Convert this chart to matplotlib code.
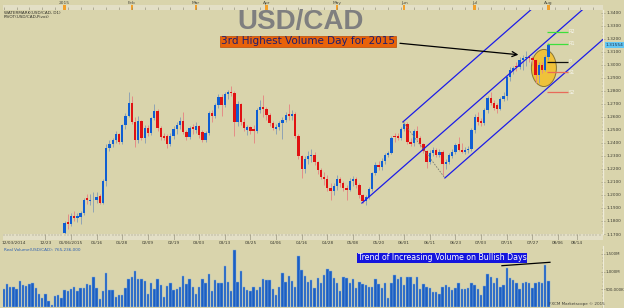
import numpy as np
import pandas as pd
import matplotlib
matplotlib.use("Agg")
import matplotlib.pyplot as plt
from matplotlib.patches import Ellipse

plt.rcParams['font.family'] = ['DejaVu Sans']

# ---------- data ----------
# daily USD/CAD candles, 2015-01-02 .. 2015-08-03
opens = [
    1.1710, 1.1790, 1.1780, 1.1840, 1.1825, 1.1830, 1.1860, 1.1975, 1.1955, 1.1960, 1.1960,   # Jan
    1.1990, 1.1940, 1.2105, 1.2360, 1.2390, 1.2425, 1.2470, 1.2405, 1.2535, 1.2610,
    1.2710, 1.2565, 1.2425, 1.2570, 1.2440, 1.2515, 1.2475, 1.2590, 1.2645, 1.2515,   # Feb
    1.2455, 1.2450, 1.2395, 1.2455, 1.2505, 1.2535, 1.2570, 1.2485, 1.2445, 1.2520,
    1.2500, 1.2530, 1.2485, 1.2425, 1.2475, 1.2630, 1.2610, 1.2690, 1.2755, 1.2695, 1.2775,   # Mar
    1.2795, 1.2785, 1.2560, 1.2700, 1.2560, 1.2500, 1.2520, 1.2510, 1.2495, 1.2655, 1.2680,
    1.2665, 1.2615, 1.2555, 1.2505, 1.2525, 1.2555, 1.2580, 1.2620, 1.2605, 1.2625, 1.2455,   # Apr
    1.2300, 1.2200, 1.2280, 1.2300, 1.2310, 1.2250, 1.2190, 1.2140, 1.2120, 1.2050, 1.2030,
    1.2070, 1.2120, 1.2090, 1.2050, 1.2040, 1.2110, 1.2120, 1.2080, 1.2000, 1.1955, 1.1985,   # May
    1.2045, 1.2170, 1.2230, 1.2215, 1.2265, 1.2305, 1.2325, 1.2455, 1.2450, 1.2440,
    1.2510, 1.2545, 1.2410, 1.2400, 1.2495, 1.2440, 1.2390, 1.2335, 1.2255, 1.2320, 1.2345,   # Jun
    1.2310, 1.2330, 1.2235, 1.2250, 1.2300, 1.2330, 1.2395, 1.2345, 1.2330, 1.2345, 1.2355,
    1.2500, 1.2600, 1.2570, 1.2555, 1.2650, 1.2745, 1.2710, 1.2690, 1.2665, 1.2740, 1.2760, 1.2905,   # Jul
    1.2955, 1.2995, 1.2985, 1.3040, 1.3055, 1.3060, 1.3050, 1.3035, 1.2920, 1.3000, 1.2965,
    1.3060,   # Aug
]
highs = [
    1.1800, 1.1855, 1.1860, 1.1880, 1.1860, 1.1875, 1.1975, 1.2010, 1.2010, 1.2020, 1.2020,
    1.2010, 1.2120, 1.2395, 1.2420, 1.2440, 1.2490, 1.2480, 1.2545, 1.2630, 1.2795,
    1.2760, 1.2600, 1.2610, 1.2580, 1.2540, 1.2540, 1.2600, 1.2700, 1.2660, 1.2530,
    1.2480, 1.2470, 1.2480, 1.2530, 1.2560, 1.2600, 1.2640, 1.2500, 1.2530, 1.2545,
    1.2560, 1.2540, 1.2500, 1.2490, 1.2645, 1.2650, 1.2710, 1.2775, 1.2780, 1.2790, 1.2810,
    1.2835, 1.2800, 1.2720, 1.2710, 1.2590, 1.2540, 1.2530, 1.2540, 1.2670, 1.2730, 1.2770,
    1.2680, 1.2630, 1.2570, 1.2545, 1.2570, 1.2600, 1.2640, 1.2700, 1.2650, 1.2640, 1.2470,
    1.2310, 1.2300, 1.2340, 1.2350, 1.2330, 1.2265, 1.2210, 1.2175, 1.2150, 1.2090, 1.2095,
    1.2150, 1.2140, 1.2110, 1.2080, 1.2130, 1.2145, 1.2135, 1.2090, 1.2010, 1.2000, 1.2060,
    1.2180, 1.2250, 1.2260, 1.2285, 1.2320, 1.2340, 1.2455, 1.2480, 1.2480, 1.2520,
    1.2565, 1.2560, 1.2440, 1.2505, 1.2530, 1.2455, 1.2400, 1.2345, 1.2345, 1.2370, 1.2365,
    1.2350, 1.2345, 1.2275, 1.2320, 1.2350, 1.2400, 1.2445, 1.2400, 1.2370, 1.2380, 1.2515,
    1.2620, 1.2640, 1.2595, 1.2670, 1.2760, 1.2790, 1.2730, 1.2710, 1.2755, 1.2790, 1.2920,
    1.2985, 1.2995, 1.3020, 1.3060, 1.3080, 1.3110, 1.3080, 1.3070, 1.3045, 1.3020, 1.3020,
    1.3075,
    1.3170,
]
lows = [
    1.1700, 1.1740, 1.1760, 1.1800, 1.1790, 1.1780, 1.1845, 1.1930, 1.1920, 1.1870, 1.1940,
    1.1930, 1.1930, 1.2070, 1.2340, 1.2370, 1.2400, 1.2390, 1.2395, 1.2510, 1.2600,
    1.2545, 1.2370, 1.2400, 1.2420, 1.2400, 1.2450, 1.2460, 1.2575, 1.2490, 1.2420,
    1.2420, 1.2360, 1.2380, 1.2430, 1.2470, 1.2510, 1.2470, 1.2420, 1.2430, 1.2470,
    1.2480, 1.2440, 1.2410, 1.2410, 1.2460, 1.2560, 1.2590, 1.2670, 1.2610, 1.2680, 1.2740,
    1.2760, 1.2450, 1.2530, 1.2540, 1.2490, 1.2460, 1.2470, 1.2400, 1.2480, 1.2630, 1.2600,
    1.2580, 1.2530, 1.2500, 1.2470, 1.2500, 1.2430, 1.2560, 1.2580, 1.2580, 1.2440, 1.2280,
    1.2130, 1.2170, 1.2240, 1.2250, 1.2230, 1.2165, 1.2120, 1.2080, 1.2030, 1.1960, 1.2000,
    1.2040, 1.2060, 1.2030, 1.1960, 1.2030, 1.2070, 1.2050, 1.1980, 1.1935, 1.1920, 1.1970,
    1.2030, 1.2150, 1.2190, 1.2195, 1.2240, 1.2290, 1.2315, 1.2410, 1.2420, 1.2420,
    1.2490, 1.2395, 1.2380, 1.2380, 1.2420, 1.2370, 1.2320, 1.2210, 1.2240, 1.2300, 1.2290,
    1.2290, 1.2150, 1.2200, 1.2235, 1.2285, 1.2315, 1.2335, 1.2320, 1.2315, 1.2320, 1.2340,
    1.2480, 1.2540, 1.2530, 1.2540, 1.2630, 1.2690, 1.2650, 1.2630, 1.2650, 1.2720, 1.2730,
    1.2880, 1.2930, 1.2950, 1.2970, 1.2960, 1.2990, 1.3020, 1.3000, 1.2865, 1.2860, 1.2940,
    1.2950,
    1.3040,
]
closes = [
    1.1785, 1.1780, 1.1840, 1.1825, 1.1835, 1.1865, 1.1965, 1.1960, 1.1960, 1.1963, 1.1985,
    1.1940, 1.2105, 1.2360, 1.2390, 1.2425, 1.2470, 1.2405, 1.2535, 1.2610, 1.2710,
    1.2565, 1.2425, 1.2570, 1.2440, 1.2515, 1.2475, 1.2590, 1.2645, 1.2515, 1.2445,
    1.2440, 1.2395, 1.2455, 1.2505, 1.2535, 1.2570, 1.2485, 1.2445, 1.2515, 1.2505,
    1.2530, 1.2460, 1.2425, 1.2475, 1.2630, 1.2605, 1.2690, 1.2755, 1.2695, 1.2775, 1.2790,
    1.2785, 1.2560, 1.2700, 1.2560, 1.2515, 1.2520, 1.2495, 1.2495, 1.2655, 1.2680, 1.2665,
    1.2615, 1.2555, 1.2515, 1.2525, 1.2555, 1.2580, 1.2615, 1.2605, 1.2625, 1.2455, 1.2300,
    1.2200, 1.2280, 1.2300, 1.2310, 1.2250, 1.2190, 1.2140, 1.2120, 1.2050, 1.2030, 1.2070,
    1.2120, 1.2090, 1.2050, 1.2040, 1.2110, 1.2120, 1.2080, 1.2000, 1.1955, 1.1985, 1.2045,
    1.2170, 1.2230, 1.2215, 1.2265, 1.2305, 1.2325, 1.2440, 1.2445, 1.2440, 1.2510,
    1.2545, 1.2410, 1.2390, 1.2495, 1.2440, 1.2390, 1.2335, 1.2255, 1.2320, 1.2345, 1.2310,
    1.2330, 1.2235, 1.2250, 1.2305, 1.2330, 1.2385, 1.2345, 1.2330, 1.2345, 1.2355, 1.2500,
    1.2600, 1.2560, 1.2555, 1.2650, 1.2745, 1.2710, 1.2670, 1.2665, 1.2740, 1.2760, 1.2905,
    1.2960, 1.2975, 1.2985, 1.3040, 1.3055, 1.3060, 1.3050, 1.3035, 1.2920, 1.3000, 1.2965,
    1.3060,
    1.3155,
]

# real volume in millions, 2014-12-03 .. 2015-08-03
volume = [
    670, 500, 650, 575, 580, 520, 735, 620, 605, 640,
    680, 540, 375, 265, 360, 170, 65, 310, 345, 260,
    480, 440, 500, 575, 440, 540, 540, 640, 630, 850,
    550, 220, 460, 970, 480, 480, 290, 350, 350, 540,
    790, 850, 1030, 800, 780, 740, 375, 690, 500, 800,
    620, 280, 600, 680, 470, 500, 580, 885, 660, 800,
    560, 375, 580, 800, 680, 920, 450, 760, 680, 680,
    1150, 700, 450, 1610, 700, 1020, 560, 480, 460, 580,
    470, 580, 800, 760, 760, 520, 330, 575, 970, 710,
    880, 735, 580, 1435, 1050, 885, 710, 760,
    545, 810, 670, 905, 1065, 1010, 810, 670, 445, 840,
    830, 670, 790, 525, 700, 645, 610, 560, 560, 790,
    645, 525, 670, 245, 690, 905, 780, 840, 625, 840,
    840, 645, 840, 510, 645, 580, 550, 415, 415, 380,
    580, 610, 580, 490, 530, 670, 510, 500, 545, 690,
    610, 510, 340, 600, 935, 860, 670, 830, 580, 615,
    1095, 830, 760, 670, 510, 670, 720, 690, 540, 690,
    700, 670, 1190, 740,
]

pivot_names = ["R2", "R1", "P", "S1", "S2"]
pivot_levels = [1.3255, 1.3165, 1.3025, 1.2945, 1.2790]
pivot_colors = ["#3CE03C", "#3CE03C", "#101010", "#E86A5A", "#E86A5A"]

# pitchfork anchors (bar index, price): handle low, swing high, swing low
fork_x = [92.8, 105.6, 118.7]
fork_y = [1.1938, 1.2562, 1.2131]
fork_slope = 0.00216

date_ticks = ["2014-12-03", "2014-12-23", "2015-01-06", "2015-01-16", "2015-01-28", "2015-02-09",
              "2015-02-19", "2015-03-03", "2015-03-13", "2015-03-25", "2015-04-06", "2015-04-16",
              "2015-04-28", "2015-05-08", "2015-05-20", "2015-06-01", "2015-06-11", "2015-06-23",
              "2015-07-03", "2015-07-15", "2015-07-27", "2015-08-06", "2015-08-14"]
date_labels = ["12/03/2014", "12/23", "01/06/2015", "01/16", "01/28", "02/09", "02/19", "03/03",
               "03/13", "03/25", "04/06", "04/16", "04/28", "05/08", "05/20", "06/01", "06/11",
               "06/23", "07/03", "07/15", "07/27", "08/06", "08/14"]
month_ticks = ["2015-01-02", "2015-02-02", "2015-03-02", "2015-04-01", "2015-05-01",
               "2015-06-01", "2015-07-01", "2015-08-03"]
month_labels = ["2015", "Feb", "Mar", "Apr", "May", "Jun", "Jul", "Aug"]

# ---------- positions ----------
days = pd.bdate_range("2014-12-03", "2015-08-31")
days = days[~days.isin(pd.to_datetime(["2014-12-25", "2015-01-01"]))]
start = days.get_loc(pd.Timestamp("2015-01-02"))
pos = lambda d: days.get_loc(pd.Timestamp(d)) - start

o, h, l, c = map(np.array, (opens, highs, lows, closes))
xc = np.arange(len(c))
xv = np.arange(len(volume)) - (len(volume) - len(c))

W, H = 624, 308
fx = lambda px: px / W
fy = lambda py: 1 - py / H
BG = "#D9D4AC"
XL = (-19.23, 168.05)

fig = plt.figure(figsize=(6.24, 3.08), dpi=100)
fig.patch.set_facecolor(BG)

ax = fig.add_axes([fx(3), fy(234), fx(600), 224 / H])
axv = fig.add_axes([fx(3), fy(307), fx(600), 61 / H])
axt = fig.add_axes([fx(3), fy(9.5), fx(600), 4.5 / H])
axb = fig.add_axes([fx(3), fy(239.5), fx(600), 5.5 / H])

for a in (ax, axv, axt, axb):
    a.set_xlim(*XL)
    a.set_facecolor(BG)
    for s in a.spines.values():
        s.set_visible(False)

# ---------- candles ----------
up = c >= o
wick_col = np.where(up, "#8FA3B4", "#E58C86")
body_col = np.where(up, "#0F5ED2", "#E01212")
ax.vlines(xc, l, h, colors=wick_col, lw=0.7, zorder=3)
body_h = np.maximum(np.abs(c - o), 0.0004)
ax.bar(xc, body_h, bottom=np.minimum(o, c), width=0.72, color=body_col, lw=0, zorder=4)

ax.set_ylim(1.17, 1.3423)

# pitchfork
for x0, y0 in zip(fork_x, fork_y):
    ax.plot([x0, XL[1]], [y0, y0 + fork_slope * (XL[1] - x0)], color="#1C1CE8", lw=0.9, zorder=5)
ax.plot(fork_x[1:], fork_y[1:], color="#7A7A70", lw=0.6, ls=(0, (2, 1.5)), zorder=5)

# highlight ellipse
ax.add_patch(Ellipse((149.6, 1.2977), 7.8, 0.0285, fc="#F2C12E", ec="#7D6B2E", lw=0.7, alpha=0.9, zorder=2))

# pivots
for name, lev, col in zip(pivot_names, pivot_levels, pivot_colors):
    ax.hlines(lev, 150.5, 157.0, colors=col, lw=0.9, zorder=6)
    ax.text(157.4, lev, name, fontsize=3.6, color="#F6F6EE", va="center", ha="left", zorder=6)

# arrow from annotation box
ax.annotate("", xy=(142.5, 1.3077), xytext=(103.8, 1.3169),
            arrowprops=dict(arrowstyle="->", color="black", lw=0.9, mutation_scale=9), zorder=7)

# right price axis
ax.yaxis.tick_right()
ax.set_yticks(np.round(np.arange(1.17, 1.3401, 0.01), 2))
ax.set_yticklabels([f"{v:.4f}" for v in np.arange(1.17, 1.3401, 0.01)])
ax.set_yticks(np.arange(1.17, 1.342, 0.0025), minor=True)
ax.tick_params(axis="y", which="major", labelsize=3.1, labelcolor="#3A3A30", length=2.2, width=0.4,
               color="#8A8670", direction="inout", pad=1.5)
ax.tick_params(axis="y", which="minor", length=1.2, width=0.3, color="#8A8670", direction="inout")
ax.tick_params(axis="x", bottom=False, labelbottom=False)
ax.spines["right"].set_visible(True)
ax.spines["right"].set_color("#EEEBD8")
ax.spines["right"].set_linewidth(1.0)

ax.annotate("1.31554", xy=(1.004, 1.31554), xycoords=("axes fraction", "data"), fontsize=3.1,
            color="#20304A", va="center", ha="left",
            bbox=dict(boxstyle="square,pad=0.2", fc="#62C6F2", ec="none"), annotation_clip=False)

# ---------- volume ----------
axv.bar(xv, volume, width=0.75, color="#1B5FC4", edgecolor="#86AEDC", lw=0.3, zorder=3)
axv.set_ylim(0, 1726)
axv.plot([136.5, 151.5], [1169, 1265], color="black", lw=0.9, zorder=5)
axv.yaxis.tick_right()
axv.set_yticks([500, 1000, 1500])
axv.set_yticklabels(["500,000K", "1,000M", "1,500M"])
axv.set_yticks(np.arange(0, 1700, 100), minor=True)
axv.tick_params(axis="y", which="major", labelsize=2.8, labelcolor="#3A3A30", length=2.2, width=0.4,
                color="#8A8670", direction="inout", pad=1.0)
axv.tick_params(axis="y", which="minor", length=1.2, width=0.3, color="#8A8670", direction="inout")
axv.tick_params(axis="x", bottom=False, labelbottom=False)
axv.spines["right"].set_visible(True)
axv.spines["right"].set_color("#EEEBD8")

# ---------- rulers ----------
ruler = "#E3DFC6"
axt.set_facecolor(ruler)
axt.set_ylim(0, 1)
axt.set_xticks([])
axt.set_yticks([])
axt.vlines(np.arange(-19, 168, 4), 0, 0.45, colors="#8A8670", lw=0.4)
mpos = [pos(d) for d in month_ticks]
axt.bar(mpos, 1, width=0.8, color="#F2A02A", lw=0)
for x, lab in zip(mpos, month_labels):
    fig.text(fx(64.6 + 3.204 * x), fy(2.6), lab, fontsize=3.2, color="#4A4A40", ha="center", va="center")

axb.set_facecolor(ruler)
axb.set_ylim(0, 1)
axb.set_xticks([])
axb.set_yticks([])
axb.vlines(np.arange(-19, 168, 1), 0.55, 1, colors="#8A8670", lw=0.3)
dpos = [pos(d) for d in date_ticks]
axb.vlines(dpos, 0.0, 1, colors="#8A8670", lw=0.4)
for i, (x, lab) in enumerate(zip(dpos, date_labels)):
    px = 64.6 + 3.204 * x
    if px < 14:
        fig.text(fx(1), fy(243.5), lab, fontsize=3.1, color="#3A3A30", ha="left", va="center")
    else:
        fig.text(fx(px), fy(243.5), lab, fontsize=3.1, color="#3A3A30", ha="center", va="center")

# ---------- texts ----------
fig.text(fx(301), fy(22), "USD/CAD", fontsize=20, fontweight="bold", family="Liberation Sans",
         color="#7F7F7F", ha="center", va="center", zorder=8)
fig.text(fx(308), fy(41.5), "3rd Highest Volume Day for 2015", fontsize=7.5, color="#1E1E70",
         ha="center", va="center", zorder=8,
         bbox=dict(boxstyle="square,pad=0.08", fc="#E8620A", ec="#B84C08", lw=0.5))
fig.text(fx(442), fy(258), "Trend of Increasing Volume on Bullish Days", fontsize=5.6, color="white",
         ha="center", va="center", zorder=8,
         bbox=dict(boxstyle="square,pad=0.1", fc="#1515DD", ec="none"))
fig.text(fx(3.5), fy(13.5), "WATERMARK(USD/CAD, D1)", fontsize=3, color="#303028", va="center")
fig.text(fx(3.5), fy(17.2), "PIVOT(USD/CAD,Pivot)", fontsize=3, color="#303028", va="center")
fig.text(fx(3.5), fy(250), "Real Volume(USD/CAD): 765,236,000", fontsize=3, color="#2D5FB0", va="center")
fig.text(fx(549), fy(304.5), "FXCM Marketscope \u00a9 2015", fontsize=3, color="#404038", va="center")

fig.savefig("out.png", dpi=100, facecolor=BG)
